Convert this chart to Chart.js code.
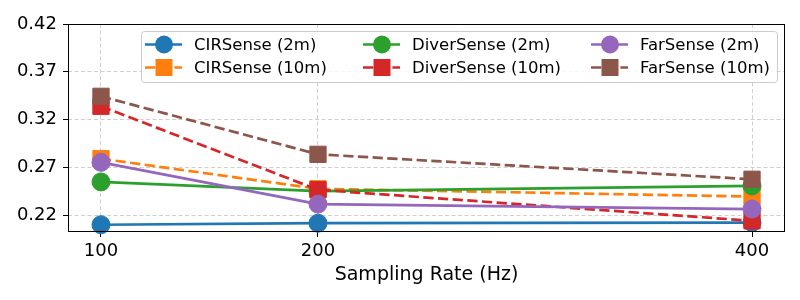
<!DOCTYPE html>
<html>
<head>
<meta charset="utf-8">
<script src="https://cdn.jsdelivr.net/npm/chart.js@4/dist/chart.umd.min.js"></script>
<style>
  html, body { margin: 0; padding: 0; background: #fff; }
</style>
</head>
<body>
<canvas id="chart" width="800" height="300"></canvas>
<script>
// sampling rates (x) and y tick labels
const rates = [100, 200, 400];
const yTicks = [0.22, 0.27, 0.32, 0.37, 0.42];

// values
const cir2m = [0.2099, 0.2115, 0.2122];
const cir10m = [0.2790, 0.2475, 0.2394];
const diver2m = [0.2547, 0.2450, 0.2505];
const diver10m = [0.3339, 0.2465, 0.2140];
const far2m = [0.2752, 0.2315, 0.2263];
const far10m = [0.3443, 0.2836, 0.2575];

const FONT = "'DejaVu Sans', sans-serif";
const LW = 2.7;
const DASH = [10.3, 4.4];

// legend order is column-major, same as plot order
const series = [
  { label: "CIRSense (2m)", data: cir2m, color: "#1f77b4", dashed: false },
  { label: "CIRSense (10m)", data: cir10m, color: "#ff7f0e", dashed: true },
  { label: "DiverSense (2m)", data: diver2m, color: "#2ca02c", dashed: false },
  { label: "DiverSense (10m)", data: diver10m, color: "#d62728", dashed: true },
  { label: "FarSense (2m)", data: far2m, color: "#9467bd", dashed: false },
  { label: "FarSense (10m)", data: far10m, color: "#8c564b", dashed: true },
];

const datasets = series.map((s, i) => ({
  label: s.label,
  data: rates.map((r, j) => ({ x: r, y: s.data[j] })),
  borderColor: s.color,
  backgroundColor: s.color,
  borderWidth: LW,
  borderDash: s.dashed ? DASH : [],
  pointStyle: s.dashed ? "rect" : "circle",
  pointRadius: s.dashed ? 11.5 : 9,
  pointBorderWidth: 1,
  pointBorderColor: s.color,
  pointBackgroundColor: s.color,
  tension: 0,
  clip: false,
  order: series.length - i, // later series drawn on top
}));

function drawMarker(ctx, s, x, y) {
  ctx.fillStyle = s.color;
  ctx.beginPath();
  if (s.dashed) {
    ctx.rect(x - 8.5, y - 8.5, 17, 17);
  } else {
    ctx.arc(x, y, 9, 0, Math.PI * 2);
  }
  ctx.fill();
}

// frame around plot area plus a legend box inside it
const framePlugin = {
  id: "frame",
  afterDatasetsDraw(chart) {
    const { ctx, chartArea: a } = chart;
    ctx.save();
    ctx.strokeStyle = "#000";
    ctx.lineWidth = 1;
    ctx.strokeRect(a.left + 0.5, a.top + 0.5, a.right - a.left - 1, a.bottom - a.top - 1);

    // legend
    const bx = 141.5, by = 31.5, bw = 636, bh = 51;
    ctx.beginPath();
    ctx.roundRect(bx, by, bw, bh, 3);
    ctx.fillStyle = "rgba(255,255,255,0.8)";
    ctx.fill();
    ctx.strokeStyle = "#cccccc";
    ctx.stroke();

    const colX = [145, 363, 591];
    const rowY = [44.5, 67.5];
    ctx.font = "16.5px " + FONT;
    ctx.textBaseline = "middle";
    ctx.textAlign = "left";
    series.forEach((s, i) => {
      const x = colX[Math.floor(i / 2)];
      const y = rowY[i % 2];
      ctx.strokeStyle = s.color;
      ctx.lineWidth = LW;
      ctx.setLineDash(s.dashed ? DASH : []);
      ctx.beginPath();
      ctx.moveTo(x, y);
      ctx.lineTo(x + 37, y);
      ctx.stroke();
      ctx.setLineDash([]);
      drawMarker(ctx, s, x + 19, y);
      ctx.fillStyle = "#000";
      ctx.fillText(s.label, x + 49, y + 1);
    });
    ctx.restore();
  },
};

new Chart(document.getElementById("chart"), {
  type: "line",
  data: { datasets },
  options: {
    responsive: false,
    animation: false,
    layout: { padding: { top: 24, right: 15, left: 0, bottom: 0 } },
    plugins: {
      legend: { display: false },
      tooltip: { enabled: false },
    },
    scales: {
      x: {
        type: "linear",
        min: 84.8,
        max: 415.2,
        afterBuildTicks: (scale) => {
          scale.ticks = rates.map((v) => ({ value: v }));
        },
        afterFit: (scale) => { scale.height = 68; },
        ticks: {
          color: "#000",
          font: { family: FONT, size: 18 },
          padding: 4,
          maxRotation: 0,
          callback: (v) => String(v),
        },
        grid: {
          color: "#cfcfcf",
          lineWidth: 1,
          tickColor: "#000",
          tickLength: 5,
          tickBorderDash: [],
        },
        border: { display: false, dash: [4, 2.5] },
        title: {
          display: true,
          text: "Sampling Rate (Hz)",
          color: "#000",
          font: { family: FONT, size: 19 },
          padding: { top: 0, bottom: 14 },
        },
      },
      y: {
        min: 0.2023,
        max: 0.42,
        afterBuildTicks: (scale) => {
          scale.ticks = yTicks.map((v) => ({ value: v }));
        },
        afterFit: (scale) => { scale.width = 68; },
        ticks: {
          color: "#000",
          font: { family: FONT, size: 18 },
          padding: 6,
          callback: (v) => v.toFixed(2),
        },
        grid: {
          color: "#cfcfcf",
          lineWidth: 1,
          tickColor: "#000",
          tickLength: 5,
          tickBorderDash: [],
        },
        border: { display: false, dash: [4, 2.5] },
      },
    },
  },
  plugins: [framePlugin],
});
</script>
</body>
</html>
